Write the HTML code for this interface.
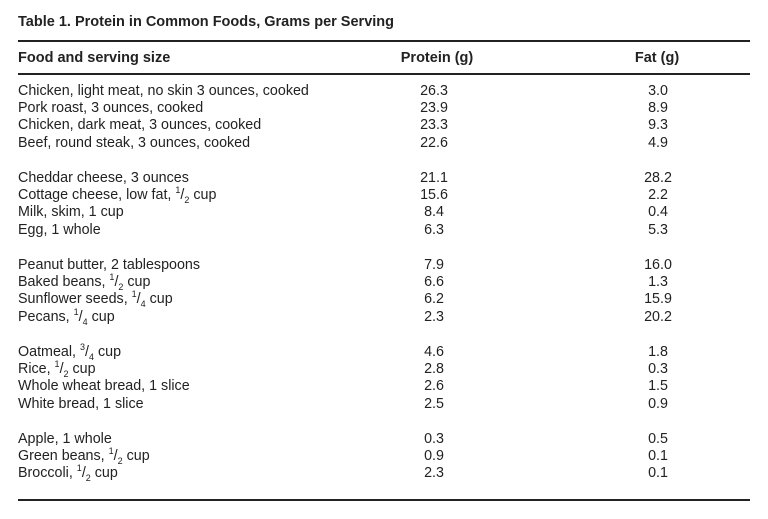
<!DOCTYPE html>
<html><head><style>
body{margin:0;width:768px;height:519px;background:#fff;font-family:"Liberation Sans",Arial,sans-serif;color:#222;position:relative;overflow:hidden}
.t{position:absolute;left:18px;top:14px;font-size:14.5px;font-weight:bold}
.h{position:absolute;top:50px;font-size:14.5px;font-weight:bold}
.line{position:absolute;left:18px;width:732px;height:1.5px;background:#222}
.r{position:absolute;font-size:14.3px;line-height:17px;white-space:nowrap}
.c{transform:translateX(-50%)}
sup,sub{font-size:9px;line-height:0}
</style></head><body>
<div class="t">Table 1. Protein in Common Foods, Grams per Serving</div>
<div class="line" style="top:40px"></div>
<div class="h" style="left:18px">Food and serving size</div>
<div class="h c" style="left:437px">Protein (g)</div>
<div class="h c" style="left:657px">Fat (g)</div>
<div class="line" style="top:73px"></div>
<div class="line" style="top:499px"></div>
<div id="rows"></div>
<script>
var d=[[0,"Chicken, light meat, no skin 3 ounces, cooked","26.3","3.0"],[1,"Pork roast, 3 ounces, cooked","23.9","8.9"],[2,"Chicken, dark meat, 3 ounces, cooked","23.3","9.3"],[3,"Beef, round steak, 3 ounces, cooked","22.6","4.9"],
[5,"Cheddar cheese, 3 ounces","21.1","28.2"],[6,"Cottage cheese, low fat, <sup>1</sup>/<sub>2</sub> cup","15.6","2.2"],[7,"Milk, skim, 1 cup","8.4","0.4"],[8,"Egg, 1 whole","6.3","5.3"],
[10,"Peanut butter, 2 tablespoons","7.9","16.0"],[11,"Baked beans, <sup>1</sup>/<sub>2</sub> cup","6.6","1.3"],[12,"Sunflower seeds, <sup>1</sup>/<sub>4</sub> cup","6.2","15.9"],[13,"Pecans, <sup>1</sup>/<sub>4</sub> cup","2.3","20.2"],
[15,"Oatmeal, <sup>3</sup>/<sub>4</sub> cup","4.6","1.8"],[16,"Rice, <sup>1</sup>/<sub>2</sub> cup","2.8","0.3"],[17,"Whole wheat bread, 1 slice","2.6","1.5"],[18,"White bread, 1 slice","2.5","0.9"],
[20,"Apple, 1 whole","0.3","0.5"],[21,"Green beans, <sup>1</sup>/<sub>2</sub> cup","0.9","0.1"],[22,"Broccoli, <sup>1</sup>/<sub>2</sub> cup","2.3","0.1"]];
var h="";d.forEach(function(r){var y=91+r[0]*17.4-8.5;
h+='<div class="r" style="left:18px;top:'+y+'px">'+r[1]+'</div><div class="r c" style="left:434px;top:'+y+'px">'+r[2]+'</div><div class="r c" style="left:658px;top:'+y+'px">'+r[3]+'</div>';});
document.getElementById("rows").innerHTML=h;
</script>
</body></html>
